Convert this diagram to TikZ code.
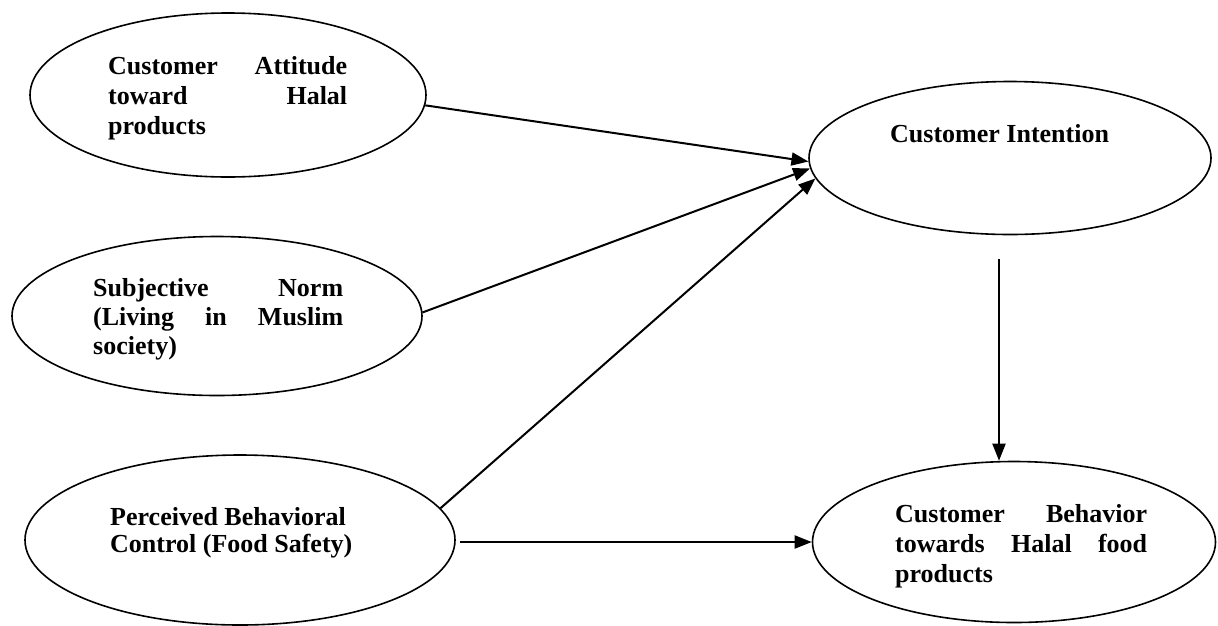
\documentclass[tikz,border=0pt]{standalone}
\usepackage{fontspec}
\setmainfont{Liberation Serif}
\usetikzlibrary{shapes.geometric,arrows.meta}
\tikzset{
  ell/.style={draw, ellipse, line width=1.6pt, inner sep=0pt},
  txt/.style={inner sep=0pt, anchor=base west, font=\fontsize{26}{30}\selectfont\bfseries},
  arr/.style={line width=2pt, -{Triangle[length=17pt,width=13pt]}}
}
\newcommand{\jline}[2]{\hbox to #1{#2}}
\begin{document}
\begin{tikzpicture}[x=1pt,y=-1pt]
\useasboundingbox (0,0) rectangle (1218,625);
% ellipses
\node[ell, minimum width=396pt, minimum height=164pt] (e1) at (228,95) {};
\node[ell, minimum width=410pt, minimum height=159pt] (e2) at (217,316) {};
\node[ell, minimum width=430pt, minimum height=170pt] (e3) at (240,540) {};
\node[ell, minimum width=402pt, minimum height=153pt] (e4) at (1010,158) {};
\node[ell, minimum width=403pt, minimum height=161pt] (e5) at (1014,542) {};
% texts
\node[txt] (t1) at (108,74) {\parbox[t]{240pt}{\baselineskip=30pt
  \jline{239pt}{Customer\hfill Attitude}
  \jline{239pt}{toward\hfill Halal}
  \hbox{products}}};
\node[txt] (t2) at (93,296) {\parbox[t]{252pt}{\baselineskip=29pt
  \jline{250pt}{Subjective\hfill Norm}
  \jline{250pt}{(Living\hfill in\hfill Muslim}
  \hbox{society)}}};
\node[txt] (t3) at (110,525) {\parbox[t]{260pt}{\baselineskip=27pt
  \hbox{Perceived Behavioral}
  \hbox{Control (Food Safety)}}};
\node[txt] (t4) at (890,142) {Customer Intention};
\node[txt] (t5) at (895,522) {\parbox[t]{254pt}{\baselineskip=30pt
  \jline{252pt}{Customer\hfill Behavior}
  \jline{252pt}{towards\hfill Halal\hfill food}
  \hbox{products}}};
% connectors
\draw[arr] (e1.-3) -- (e4.181);
\draw[arr] (e2.1) -- (e4.183);
\draw[arr] (e3.9) -- (e4.186);
\coordinate (hs) at ([xshift=4pt,yshift=-2pt]e3.east);
\draw[arr] (hs) -- (hs -| e5.west);
\coordinate (vs) at (999,259);
\draw[arr] (vs) -- (vs |- e5.north);
\end{tikzpicture}
\end{document}
